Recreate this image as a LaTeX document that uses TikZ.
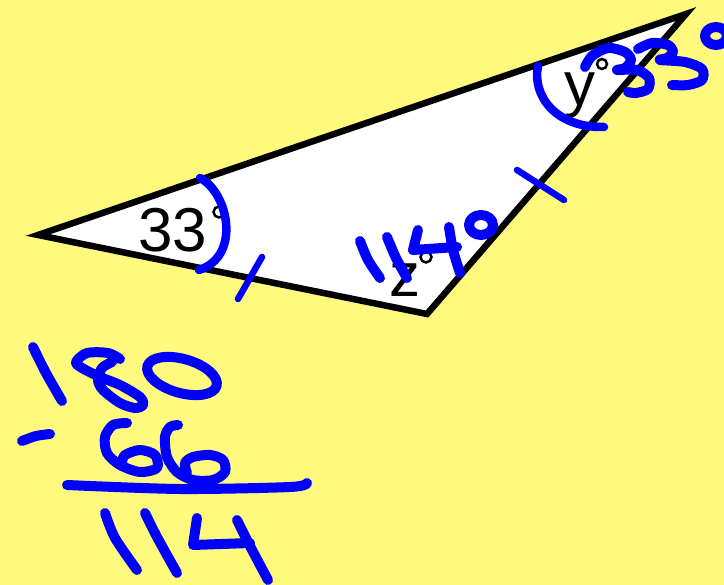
\documentclass[tikz,border=0pt]{standalone}
\usepackage{fontspec}
\setmainfont{Liberation Sans}
\definecolor{bgyellow}{RGB}{255,250,125}
\definecolor{penblue}{RGB}{0,0,255}
\begin{document}
\begin{tikzpicture}[x=1pt,y=-1pt,
  hand/.style={draw=penblue,line width=10pt,line cap=round,line join=round},
  arcpen/.style={hand,line width=8.5pt},
  tickpen/.style={hand,line width=6.5pt},
  lbl/.style={font=\fontsize{62}{62}\selectfont,inner sep=0pt,anchor=base},
  degb/.style={draw=black,line width=2.5pt}]
\fill[bgyellow] (0,0) rectangle (724,585);
\useasboundingbox (0,0) rectangle (724,585);
% triangle
\coordinate (A) at (38,235);
\coordinate (B) at (686,14);
\coordinate (C) at (427,314);
\draw[fill=white,line width=6.5pt,line join=miter] (A) -- (B) -- (C) -- cycle;
% black labels
\node[lbl] (t33) at (173,252) {33};
\draw[degb] (219,212) circle [radius=5.5pt];
\node[lbl] (ty) at (580,106) {y};
\draw[degb] (602,64) circle [radius=5pt];
\node[lbl] (tz) at (405,297) {z};
\draw[degb] (426,257) circle [radius=5.5pt];
% angle arcs and ticks
\draw[arcpen] (200,178) .. controls (228,192) and (242,256) .. (199,270);
\draw[arcpen] (538,66) .. controls (532,95) and (555,128) .. (604,127);
\draw[tickpen] (262,257) -- (238,299);
\draw[tickpen] (517,170) -- (564,200);
% 114 degrees inside
\draw[hand] plot[smooth] coordinates {(360,241) (368,260) (380,278)};
\draw[hand] plot[smooth] coordinates {(387,237) (396,258) (407,278)};
\draw[hand] (418,230) -- (413,250) -- (457,247);
\draw[hand] plot[smooth] coordinates {(449,227) (453,250) (460,273)};
\draw[hand] (481,225) ellipse [x radius=12, y radius=10];
% 33 degrees top right
\draw[hand] plot[smooth] coordinates {(585,67) (592,56) (608,48) (625,52) (631,60) (625,68) (617,70) (637,70) (649,78) (648,89) (636,93) (628,92)};
\draw[hand] plot[smooth] coordinates {(638,49) (652,43) (668,45) (673,52) (667,58) (660,60) (685,62) (702,69) (702,80) (688,85) (672,85)};
\draw[hand] (716,36) ellipse [x radius=11, y radius=9];
% 180
\draw[hand] plot[smooth] coordinates {(33,347) (46,373) (62,401)};
\draw[hand] plot[smooth] coordinates {(120,359) (108,353) (87,353) (76,362) (82,368) (100,377) (120,385) (140,397) (143,405) (135,408) (120,403) (103,390) (98,380) (102,368) (112,362)};
\draw[hand,rotate around={-16:(182,376)}] (182,376) ellipse [x radius=36, y radius=17];
% - 66
\draw[hand] plot[smooth] coordinates {(22,441) (36,436) (50,434)};
\draw[hand] plot[smooth] coordinates {(127,423) (113,425) (105,437) (107,453) (120,465) (140,472) (157,468) (155,455) (140,450) (125,455) (122,462)};
\draw[hand] plot[smooth] coordinates {(178,425) (170,427) (165,437) (167,457) (177,472) (193,480) (213,480) (225,472) (223,460) (210,455) (193,457) (185,463) (187,473)};
% line
\draw[hand] plot[smooth] coordinates {(67,485) (180,489) (290,487) (307,483)};
% 114
\draw[hand] plot[smooth] coordinates {(105,513) (115,538) (137,570)};
\draw[hand] plot[smooth] coordinates {(145,513) (157,537) (177,573)};
\draw[hand] (197,518) -- (193,545) -- (250,543);
\draw[hand] plot[smooth] coordinates {(237,520) (250,546) (268,580)};
\end{tikzpicture}
\end{document}
